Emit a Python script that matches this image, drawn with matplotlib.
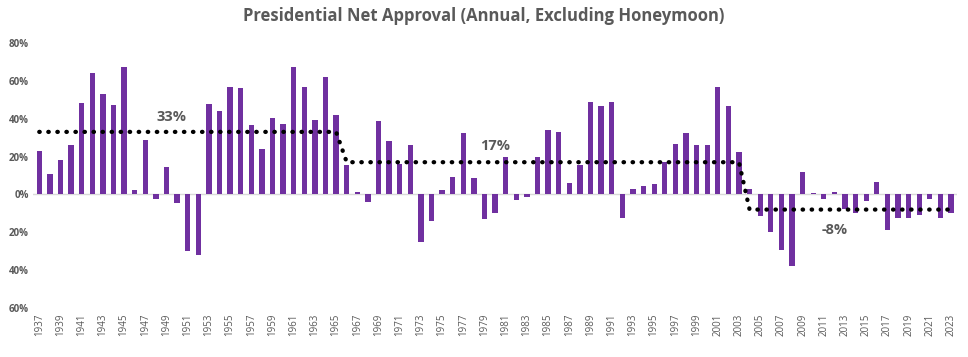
import matplotlib
matplotlib.use('Agg')
import matplotlib.pyplot as plt
from matplotlib.ticker import FuncFormatter

# annual net approval, percent
years = list(range(1937, 2024))
net_approval = [
    23, 11, 18, 26, 48, 64, 53, 47, 67.5, 2.5,
    28.5, -2.5, 14.5, -4.5, -30, -32, 47.5, 44, 56.5, 56,
    36.5, 24, 40.5, 37, 67, 56.5, 39.5, 62, 42, 15.5,
    1.5, -4, 38.5, 28, 16, 26, -25, -14, 2.5, 9,
    32.5, 8.5, -13, -10, 19.5, -3, -1.5, 20, 34, 33,
    6, 15.5, 49, 46.5, 49, -12.5, 3, 4.5, 5.5, 17,
    26.5, 32.5, 26, 26, 56.5, 46.5, 22.5, 3, -11.5, -20,
    -29.5, -38, 12, 0.5, -2.5, 1.5, -7.5, -10, -3.5, 6.5,
    -19, -12.5, -12.5, -11, -2.5, -12.5, -10,
]

# era averages shown as the dotted step line
era_x = [1937, 1965, 1966, 2003, 2004, 2023]
era_avg = [33, 33, 17, 17, -8, -8]
era_labels = ['33%', '17%', '-8%']
era_label_x = [1949.5, 1980, 2012]
era_label_y = [41, 25.5, -19]

purple = '#7030A0'
grey = '#595959'

plt.rcParams['font.family'] = ['Open Sans', 'DejaVu Sans']

fig = plt.figure(figsize=(9.68, 3.57), dpi=100)
ax = fig.add_axes([0.034, 0.137, 0.955, 0.743])

ax.bar(years, net_approval, width=0.5, color=purple, zorder=2)
ax.axhline(0, color='#d9d9d9', linewidth=1, zorder=1)
ax.plot(era_x, era_avg, linestyle=(0, (0.1, 2.0)), dash_capstyle='round',
        color='black', linewidth=3.1, zorder=3)

for lab, x, y in zip(era_labels, era_label_x, era_label_y):
    ax.text(x, y, lab, ha='center', va='center', fontsize=10.5,
            fontweight='bold', color=grey)

ax.set_xlim(1936.4, 2023.6)
ax.set_ylim(-60, 80)
ax.set_yticks(range(-60, 81, 20))
# the original drops the minus sign on negative ticks
ax.yaxis.set_major_formatter(FuncFormatter(lambda v, p: f'{abs(int(v))}%'))
ax.set_xticks(years[::2])
ax.set_xticklabels([str(y) for y in years[::2]], rotation=90)
ax.tick_params(axis='y', length=0, labelsize=7, labelcolor=grey, pad=3)
ax.tick_params(axis='x', length=0, labelsize=7, labelcolor=grey, pad=4)
for t in ax.get_yticklabels():
    t.set_fontweight('bold')
for s in ax.spines.values():
    s.set_visible(False)

fig.suptitle('Presidential Net Approval (Annual, Excluding Honeymoon)',
             x=0.5, y=0.98, fontsize=12, fontweight='bold', color=grey)

fig.savefig('out.png', dpi=100)
